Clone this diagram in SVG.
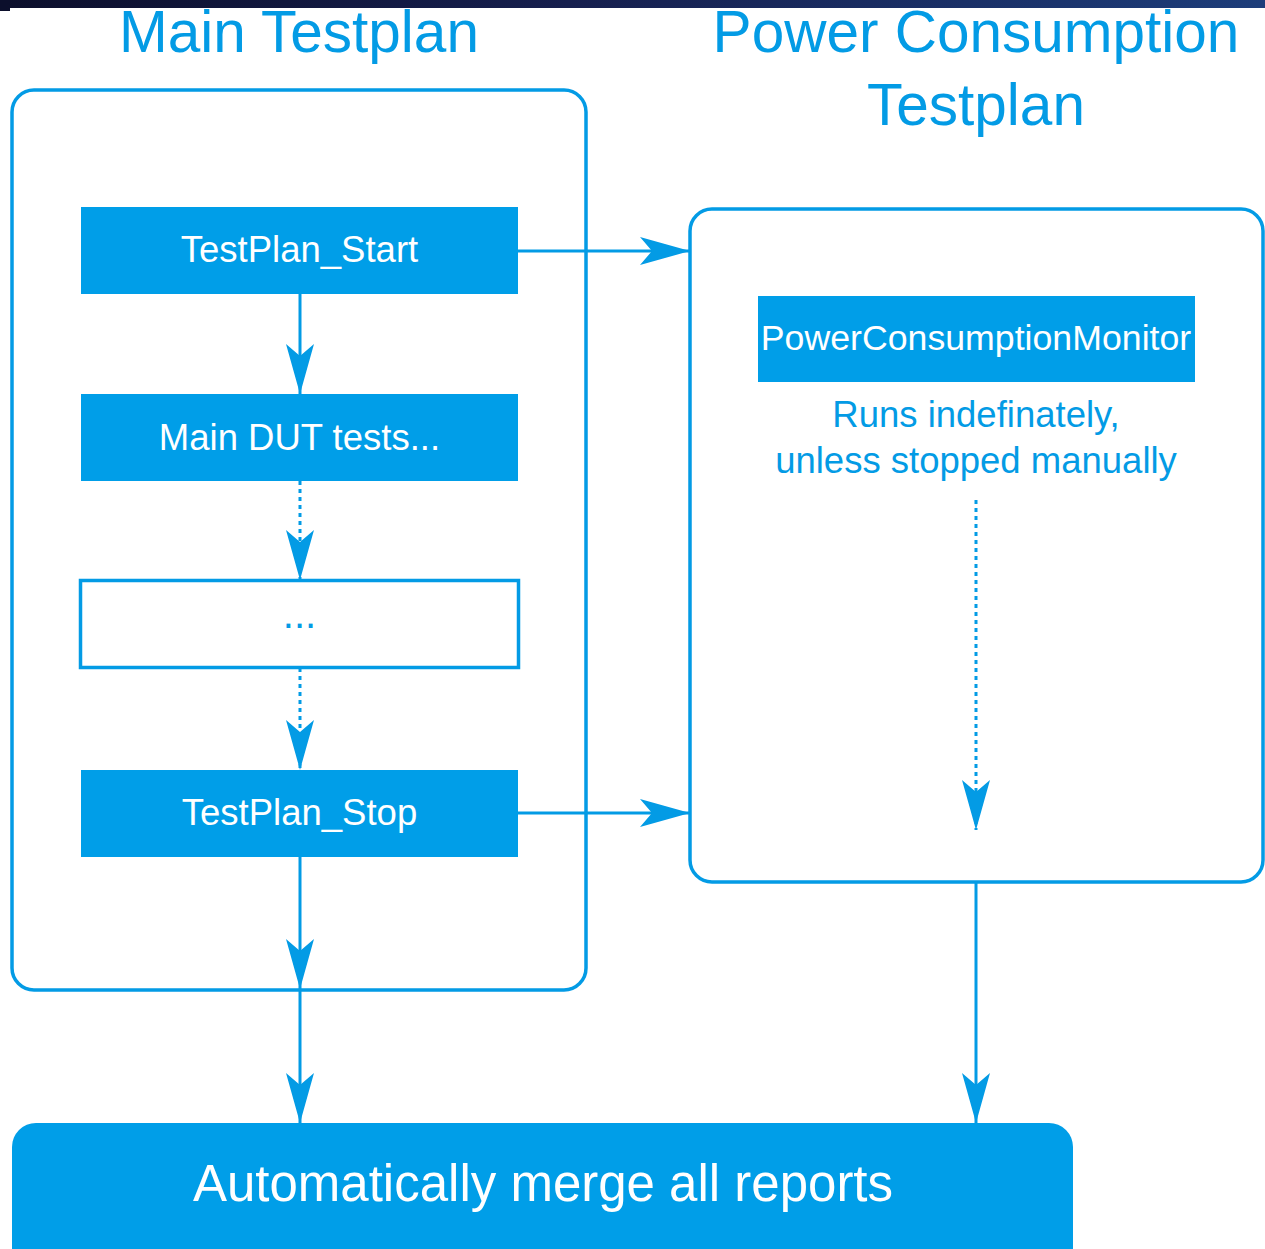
<svg xmlns="http://www.w3.org/2000/svg" width="1265" height="1249" viewBox="0 0 1265 1249">
<defs>
<linearGradient id="band" x1="0" y1="0" x2="1" y2="0">
<stop offset="0" stop-color="#0c0f2c"/>
<stop offset="0.45" stop-color="#161f4e"/>
<stop offset="1" stop-color="#1d3d7a"/>
</linearGradient>
<marker id="ah" markerUnits="userSpaceOnUse" markerWidth="52" markerHeight="30" viewBox="-1 -15 52 30" refX="50" refY="0" orient="auto">
<path d="M50,0 L0,-14 L12,0 L0,14 Z" fill="#039be5"/>
</marker>
<style>
.cont{fill:none;stroke:#039be5;stroke-width:3.5}
.box{fill:#009ee8}
.lbl{font-family:"Liberation Sans",Arial,sans-serif;fill:#fff;text-anchor:middle}
.ttl{font-family:"Liberation Sans",Arial,sans-serif;fill:#039be5;text-anchor:middle}
.ln{stroke:#039be5;stroke-width:3;fill:none}
.dot{stroke:#039be5;stroke-width:3;fill:none;stroke-dasharray:4 4}
</style>
</defs>
<rect x="0" y="0" width="1265" height="1249" fill="#fff"/>
<rect x="0" y="0" width="1265" height="8" fill="url(#band)"/>
<rect x="0" y="0" width="10" height="11" fill="#0c0f2c"/>

<g id="title-main"><text class="ttl" x="299" y="52" font-size="58.5">Main Testplan</text></g>
<g id="title-power"><text class="ttl" x="976" y="52" font-size="58.5">Power Consumption</text><text class="ttl" x="976" y="125" font-size="58.5">Testplan</text></g>

<g id="main-container"><rect class="cont" x="12" y="90" width="574" height="900" rx="22"/></g>
<g id="power-container"><rect class="cont" x="690" y="209" width="573" height="673" rx="22"/></g>

<g id="connectors">
<line class="ln" x1="300" y1="294" x2="300" y2="394" marker-end="url(#ah)"/>
<line class="dot" x1="300" y1="481" x2="300" y2="580" marker-end="url(#ah)"/>
<line class="dot" x1="300" y1="668" x2="300" y2="770" marker-end="url(#ah)"/>
<line class="ln" x1="300" y1="857" x2="300" y2="989" marker-end="url(#ah)"/>
<line class="ln" x1="300" y1="990" x2="300" y2="1123" marker-end="url(#ah)"/>
<line class="ln" x1="518" y1="251" x2="690" y2="251" marker-end="url(#ah)"/>
<line class="ln" x1="518" y1="813" x2="690" y2="813" marker-end="url(#ah)"/>
<line class="dot" x1="976" y1="500" x2="976" y2="830" marker-end="url(#ah)"/>
<line class="ln" x1="976" y1="882" x2="976" y2="1123" marker-end="url(#ah)"/>
</g>

<g id="testplan-start"><rect class="box" x="81" y="207" width="437" height="87"/><text class="lbl" x="299.5" y="262" font-size="36.5">TestPlan_Start</text></g>
<g id="main-dut"><rect class="box" x="81" y="394" width="437" height="87"/><text class="lbl" x="299.5" y="450" font-size="36.5">Main DUT tests...</text></g>
<g id="ellipsis"><rect x="80.5" y="580.5" width="438" height="87" fill="#fff" stroke="#039be5" stroke-width="3.5"/><text class="ttl" x="299.5" y="628" font-size="40">...</text></g>
<g id="testplan-stop"><rect class="box" x="81" y="770" width="437" height="87"/><text class="lbl" x="299.5" y="825" font-size="36.5">TestPlan_Stop</text></g>
<g id="power-monitor"><rect class="box" x="758" y="296" width="437" height="86"/><text class="lbl" x="976" y="350" font-size="35.7">PowerConsumptionMonitor</text></g>
<g id="power-note"><text class="ttl" x="976" y="427" font-size="36.5">Runs indefinately,</text><text class="ttl" x="976" y="473" font-size="36.5">unless stopped manually</text></g>
<g id="merge"><rect class="box" x="12" y="1123" width="1061" height="160" rx="24"/><text class="lbl" x="543" y="1201" font-size="51">Automatically merge all reports</text></g>
</svg>
